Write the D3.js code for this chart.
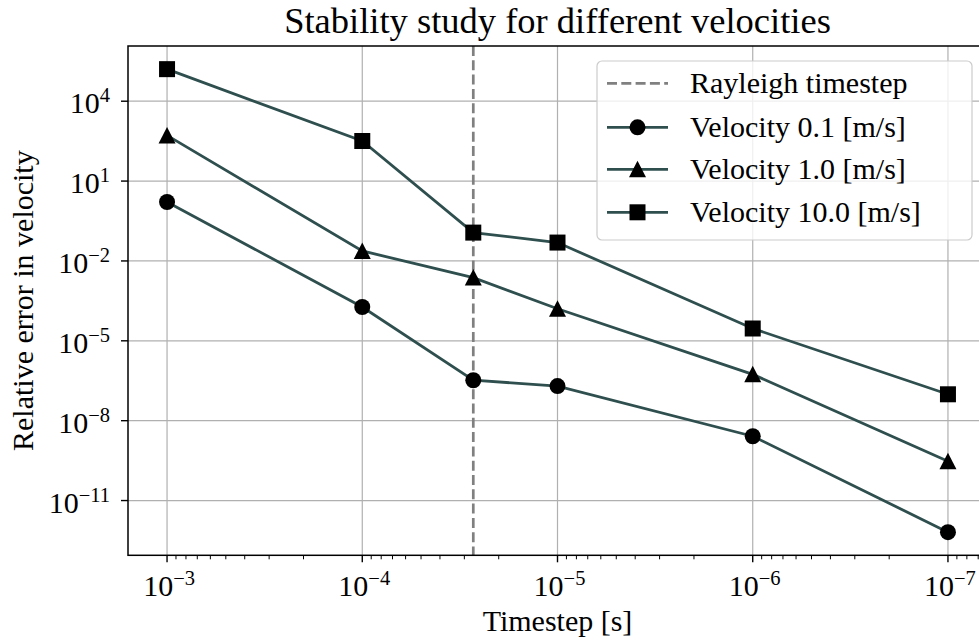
<!DOCTYPE html>
<html>
<head>
<meta charset="utf-8">
<script src="https://cdn.jsdelivr.net/npm/d3@7"></script>
<style>
  html, body { margin: 0; padding: 0; background: #fff; }
  svg { display: block; font-family: "Liberation Serif", "Times New Roman", serif; }
</style>
</head>
<body>
<svg id="chart" width="979" height="641"></svg>
<script>
// ---- data ----
const timesteps = [1e-3, 1e-4, 2.7e-5, 1e-5, 1e-6, 1e-7];
const rayleighTimestep = 2.7e-5;
const seriesNames = ["Velocity 0.1 [m/s]", "Velocity 1.0 [m/s]", "Velocity 10.0 [m/s]"];
const seriesMarkers = ["circle", "triangle", "square"];
const vel01 = [1.64, 1.86e-4, 3.3e-7, 2.0e-7, 2.6e-9, 6.5e-13];
const vel1 = [519, 0.0237, 2.37e-3, 1.6e-4, 5.5e-7, 3.0e-10];
const vel10 = [1.6e5, 320, 0.116, 0.049, 2.9e-5, 9.8e-8];
const xTickExps = [-3, -4, -5, -6, -7];
const yTickExps = [-11, -8, -5, -2, 1, 4];
const titleText = "Stability study for different velocities";
const xLabelText = "Timestep [s]";
const yLabelText = "Relative error in velocity";
const rayleighLabel = "Rayleigh timestep";

const seriesValues = [vel01, vel1, vel10];

// ---- layout ----
const pLeft = 128, pRight = 987, pTop = 46, pBottom = 555.3;
const lineColor = "#2f4f4f";
const fontSize = 30, supSize = 20.5, titleSize = 36.5;

const svg = d3.select("#chart");

// log-space 5% padding like matplotlib
function padDomain(vals) {
  const l = vals.map(v => Math.log10(v));
  const lo = d3.min(l), hi = d3.max(l);
  const p = (hi - lo) * 0.05;
  return [Math.pow(10, lo - p), Math.pow(10, hi + p)];
}
const xd = padDomain(timesteps);
const yd = padDomain([].concat(...seriesValues));

const x = d3.scaleLog().domain([xd[1], xd[0]]).range([pLeft, pRight]);
const y = d3.scaleLog().domain(yd).range([pBottom, pTop]);

const g = svg.append("g");

// grid
const xTicks = xTickExps.map(e => Math.pow(10, e));
const yTicks = yTickExps.map(e => Math.pow(10, e));
g.selectAll(".xgrid").data(xTicks).enter().append("line")
  .attr("x1", d => x(d)).attr("x2", d => x(d))
  .attr("y1", pTop).attr("y2", pBottom)
  .attr("stroke", "#b0b0b0").attr("stroke-width", 1.2);
g.selectAll(".ygrid").data(yTicks).enter().append("line")
  .attr("x1", pLeft).attr("x2", pRight)
  .attr("y1", d => y(d)).attr("y2", d => y(d))
  .attr("stroke", "#b0b0b0").attr("stroke-width", 1.2);

// Rayleigh dashed line
g.append("line")
  .attr("x1", x(rayleighTimestep)).attr("x2", x(rayleighTimestep))
  .attr("y1", pTop).attr("y2", pBottom)
  .attr("stroke", "#808080").attr("stroke-width", 2.7)
  .attr("stroke-dasharray", "10,4.3");

// marker drawing
function drawMarker(sel, type, cx, cy) {
  if (type === "circle") {
    sel.append("circle").attr("cx", cx).attr("cy", cy).attr("r", 8).attr("fill", "#000");
  } else if (type === "square") {
    sel.append("rect").attr("x", cx - 8).attr("y", cy - 8).attr("width", 16).attr("height", 16).attr("fill", "#000");
  } else {
    sel.append("path").attr("d", `M${cx},${cy - 8.5}L${cx + 8.5},${cy + 8}L${cx - 8.5},${cy + 8}Z`).attr("fill", "#000");
  }
}

const line = d3.line().x(d => x(d[0])).y(d => y(d[1]));
seriesValues.forEach((vals, i) => {
  const pts = timesteps.map((t, j) => [t, vals[j]]);
  g.append("path").datum(pts).attr("d", line)
    .attr("fill", "none").attr("stroke", lineColor).attr("stroke-width", 2.8);
  const mg = g.append("g");
  pts.forEach(p => drawMarker(mg, seriesMarkers[i], x(p[0]), y(p[1])));
});

// spines
g.append("rect").attr("x", pLeft).attr("y", pTop)
  .attr("width", pRight - pLeft).attr("height", pBottom - pTop)
  .attr("fill", "none").attr("stroke", "#000").attr("stroke-width", 1.5);

// x ticks (major + minor)
const minorX = [];
for (let e = -8; e <= -2; e++) for (let k = 2; k <= 9; k++) {
  const v = k * Math.pow(10, e);
  if (v <= xd[1] && v >= xd[0]) minorX.push(v);
}
g.selectAll(".xminor").data(minorX).enter().append("line")
  .attr("x1", d => x(d)).attr("x2", d => x(d))
  .attr("y1", pBottom).attr("y2", pBottom + 4)
  .attr("stroke", "#000").attr("stroke-width", 1);
g.selectAll(".xmajor").data(xTicks).enter().append("line")
  .attr("x1", d => x(d)).attr("x2", d => x(d))
  .attr("y1", pBottom).attr("y2", pBottom + 7)
  .attr("stroke", "#000").attr("stroke-width", 1.4);

function powLabel(sel, e) {
  sel.append("tspan").text("10");
  sel.append("tspan").attr("dy", -11).attr("font-size", supSize)
    .text((e < 0 ? "\u2212" : "") + Math.abs(e));
}
xTickExps.forEach(e => {
  const t = g.append("text").attr("x", x(Math.pow(10, e)) + 2).attr("y", pBottom + 41)
    .attr("text-anchor", "middle").attr("font-size", fontSize);
  powLabel(t, e);
});

// y ticks
g.selectAll(".ymajor").data(yTicks).enter().append("line")
  .attr("x1", pLeft - 7).attr("x2", pLeft)
  .attr("y1", d => y(d)).attr("y2", d => y(d))
  .attr("stroke", "#000").attr("stroke-width", 1.4);
yTickExps.forEach(e => {
  const t = g.append("text").attr("x", 110).attr("y", y(Math.pow(10, e)) + 12)
    .attr("text-anchor", "end").attr("font-size", fontSize);
  powLabel(t, e);
});

// labels
svg.append("text").attr("x", (pLeft + pRight) / 2).attr("y", 33)
  .attr("text-anchor", "middle").attr("font-size", titleSize).text(titleText);
svg.append("text").attr("x", (pLeft + pRight) / 2).attr("y", 631)
  .attr("text-anchor", "middle").attr("font-size", fontSize).text(xLabelText);
svg.append("text").attr("transform", `translate(33,${(pTop + pBottom) / 2}) rotate(-90)`)
  .attr("text-anchor", "middle").attr("font-size", fontSize).text(yLabelText);

// legend
const lg = svg.append("g");
lg.append("rect").attr("x", 597).attr("y", 61).attr("width", 375).attr("height", 179)
  .attr("rx", 5).attr("fill", "#fff").attr("fill-opacity", 0.8)
  .attr("stroke", "#cccccc").attr("stroke-width", 1.2);
const rowY = [83.3, 127.3, 169.3, 212.3];
const hx1 = 607, hx2 = 668, tx = 690;
lg.append("line").attr("x1", hx1).attr("x2", hx2).attr("y1", rowY[0]).attr("y2", rowY[0])
  .attr("stroke", "#808080").attr("stroke-width", 2.7).attr("stroke-dasharray", "10,4.3");
lg.append("text").attr("x", tx).attr("y", rowY[0] + 10).attr("font-size", fontSize).text(rayleighLabel);
seriesNames.forEach((name, i) => {
  const ry = rowY[i + 1];
  lg.append("line").attr("x1", hx1).attr("x2", hx2).attr("y1", ry).attr("y2", ry)
    .attr("stroke", lineColor).attr("stroke-width", 2.8);
  drawMarker(lg, seriesMarkers[i], (hx1 + hx2) / 2, ry);
  lg.append("text").attr("x", tx).attr("y", ry + 10).attr("font-size", fontSize).text(name);
});
</script>
</body>
</html>
